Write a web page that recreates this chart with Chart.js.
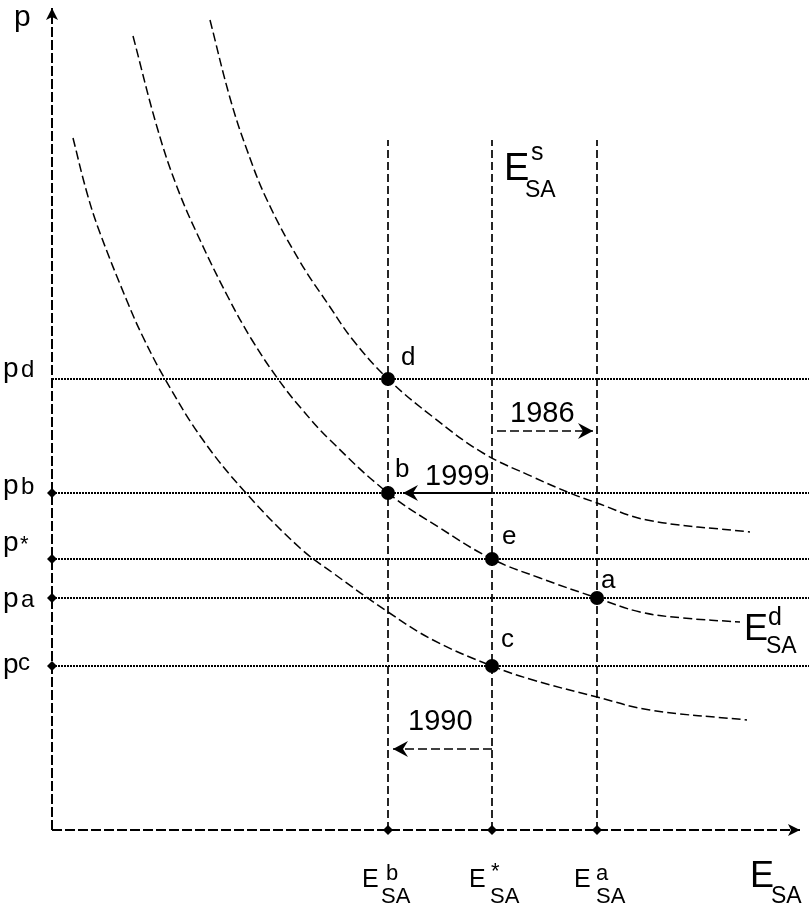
<!DOCTYPE html>
<html>
<head>
<meta charset="utf-8">
<script src="https://cdn.jsdelivr.net/npm/chart.js@4.4.1/dist/chart.umd.min.js"></script>
<style>
  html, body { margin: 0; padding: 0; background: #ffffff; }
  #wrap { position: relative; width: 809px; height: 908px; }
</style>
</head>
<body>
<div id="wrap"><canvas id="c"></canvas></div>
<script>
// ---- Quantities (E_SA) and prices (p), arbitrary units ----
const E_b = 3.36, E_star = 4.40, E_a = 5.45;
const p_d = 4.51, p_b = 3.37, p_star = 2.71, p_a = 2.32, p_c = 1.64;

const quantityLevels = [E_b, E_star, E_a];
const priceLevels = [p_d, p_b, p_star, p_a, p_c];
const priceTickLevels = [p_b, p_star, p_a, p_c];

// Upper demand curve (through d)
const curveTop_E = [1.58, 1.78, 1.95, 2.15, 2.47, 2.78, 3.01, 3.36, 3.81, 4.31, 4.81, 5.18, 5.45, 5.95, 6.98];
const curveTop_p = [8.10, 7.32, 6.80, 6.30, 5.70, 5.23, 4.90, 4.51, 4.13, 3.77, 3.53, 3.37, 3.27, 3.10, 2.98];
// Middle demand curve E^d_SA (through b, e, a)
const curveMid_E = [0.81, 1.05, 1.25, 1.48, 1.76, 2.00, 2.26, 2.48, 2.78, 3.36, 3.88, 4.40, 4.88, 5.45, 5.88, 6.31, 6.88];
const curveMid_p = [7.94, 7.03, 6.43, 5.90, 5.33, 4.90, 4.51, 4.23, 3.90, 3.37, 3.02, 2.71, 2.52, 2.32, 2.18, 2.12, 2.08];
// Lower demand curve (through c)
const curveLow_E = [0.21, 0.35, 0.48, 0.75, 0.91, 1.13, 1.51, 1.94, 2.48, 2.81, 3.36, 3.81, 4.40, 4.81, 5.45, 5.98, 6.95];
const curveLow_p = [6.92, 6.37, 5.97, 5.29, 4.93, 4.51, 3.90, 3.37, 2.82, 2.57, 2.18, 1.90, 1.64, 1.50, 1.33, 1.20, 1.10];

// Equilibrium points
const pointNames = ['d', 'b', 'e', 'a', 'c'];
const point_E = [E_b, E_b, E_star, E_a, E_star];
const point_p = [p_d, p_b, p_star, p_a, p_c];

// Shift arrows
const arrow1986_E = [4.45, 5.41]; const arrow1986_p = 3.99;
const arrow1999_E = [4.40, 3.51]; const arrow1999_p = p_b;
const arrow1990_E = [4.40, 3.41]; const arrow1990_p = 0.81;

// Axis extents
const axisTop_p = 8.22, axisRight_E = 7.48, vLineTop_p = 6.90;
const viewE = [-0.52, 7.57], viewP = [-0.78, 8.30];

// ---- helpers ----
const pts = (xs, ys) => xs.map((x, i) => ({ x, y: Array.isArray(ys) ? ys[i] : ys }));

function makeArrowHead(len, half, notch) {
  const s = Math.ceil(len * 2 + 4);
  const c = document.createElement('canvas');
  c.width = s; c.height = s;
  const g = c.getContext('2d');
  const cx = s / 2, cy = s / 2;
  g.fillStyle = '#000';
  g.beginPath();
  g.moveTo(cx, cy);
  g.lineTo(cx - len, cy - half);
  g.lineTo(cx - len + notch, cy);
  g.lineTo(cx - len, cy + half);
  g.closePath();
  g.fill();
  return c;
}
const axisHead = makeArrowHead(12, 6, 3);
const yearHead = makeArrowHead(15, 8, 5);

const base = { showLine: true, fill: false, borderColor: '#000', backgroundColor: '#000', pointRadius: 0, pointHoverRadius: 0 };

const datasets = [];
// Equilibrium dots
datasets.push({ ...base, showLine: false, order: 0, data: pts(point_E, point_p), pointRadius: 7, pointStyle: 'circle', borderWidth: 0 });
// Small diamonds on the axes
datasets.push({ ...base, showLine: false, order: 1, data: priceTickLevels.map(p => ({ x: 0, y: p })).concat(quantityLevels.map(e => ({ x: e, y: 0 }))), pointRadius: 5, pointStyle: 'rectRot', borderWidth: 0 });
// Arrows
function arrowSet(xs, y, dash, width) {
  return { ...base, order: 2, data: pts(xs, y), borderWidth: width, borderDash: dash,
    pointStyle: [false, yearHead], pointRadius: [0, 8], rotation: xs[1] > xs[0] ? 0 : 180 };
}
datasets.push(arrowSet(arrow1986_E, arrow1986_p, [9, 4], 1.7));
datasets.push(arrowSet(arrow1999_E, arrow1999_p, [], 2.2));
datasets.push(arrowSet(arrow1990_E, arrow1990_p, [9, 4], 1.7));
// Demand curves
[[curveTop_E, curveTop_p], [curveMid_E, curveMid_p], [curveLow_E, curveLow_p]].forEach(([xs, ys]) => {
  datasets.push({ ...base, order: 3, data: pts(xs, ys), borderWidth: 1.5, borderDash: [9, 4], tension: 0.4 });
});
// Vertical supply lines
quantityLevels.forEach(e => {
  datasets.push({ ...base, order: 4, data: [{ x: e, y: 0 }, { x: e, y: vLineTop_p }], borderWidth: 1.7, borderDash: [8, 4] });
});
// Horizontal price lines
priceLevels.forEach(p => {
  datasets.push({ ...base, order: 5, data: [{ x: 0, y: p }, { x: viewE[1], y: p }], borderWidth: 1.8, borderDash: [2, 1], borderColor: '#000' });
});
// Axes
datasets.push({ ...base, order: 6, data: [{ x: 0, y: 0 }, { x: 0, y: axisTop_p }], borderWidth: 2, borderDash: [10, 3],
  pointStyle: [false, axisHead], pointRadius: [0, 8], rotation: -90 });
datasets.push({ ...base, order: 6, data: [{ x: 0, y: 0 }, { x: axisRight_E, y: 0 }], borderWidth: 2, borderDash: [10, 3],
  pointStyle: [false, axisHead], pointRadius: [0, 8], rotation: 0 });

// ---- text labels (anchor = left / baseline in data units) ----
const FONT = '"Liberation Sans", Arial, Helvetica, sans-serif';
const labels = [
  { t: 'p', x: -0.38, y: 8.04, s: 30 },
  { t: 'p', x: -0.49, y: 4.53, s: 28 }, { t: 'd', x: -0.31, y: 4.53, s: 24 },
  { t: 'p', x: -0.49, y: 3.36, s: 28 }, { t: 'b', x: -0.31, y: 3.36, s: 24 },
  { t: 'p', x: -0.49, y: 2.79, s: 28 }, { t: '*', x: -0.32, y: 2.79, s: 22 },
  { t: 'p', x: -0.49, y: 2.23, s: 28 }, { t: 'a', x: -0.31, y: 2.23, s: 24 },
  { t: 'p', x: -0.49, y: 1.57, s: 28 }, { t: 'c', x: -0.34, y: 1.60, s: 24 },
  { t: 'd', x: 3.49, y: 4.65, s: 26 },
  { t: 'b', x: 3.43, y: 3.53, s: 26 },
  { t: 'e', x: 4.50, y: 2.86, s: 26 },
  { t: 'c', x: 4.49, y: 1.83, s: 26 },
  { t: 'a', x: 5.49, y: 2.42, s: 26 },
  { t: '1986', x: 4.58, y: 4.08, s: 29 },
  { t: '1999', x: 3.73, y: 3.45, s: 29 },
  { t: '1990', x: 3.56, y: 1.00, s: 29 },
  { t: 'E', x: 4.52, y: 6.50, s: 38 }, { t: 's', x: 4.79, y: 6.70, s: 25 }, { t: 'SA', x: 4.73, y: 6.33, s: 23 },
  { t: 'E', x: 6.92, y: 1.90, s: 36 }, { t: 'd', x: 7.16, y: 2.05, s: 25 }, { t: 'SA', x: 7.14, y: 1.77, s: 23 },
  { t: 'E', x: 3.10, y: -0.57, s: 25 }, { t: 'b', x: 3.34, y: -0.50, s: 22 }, { t: 'SA', x: 3.29, y: -0.73, s: 22 },
  { t: 'E', x: 4.17, y: -0.57, s: 25 }, { t: '*', x: 4.39, y: -0.48, s: 22 }, { t: 'SA', x: 4.38, y: -0.73, s: 22 },
  { t: 'E', x: 5.22, y: -0.57, s: 25 }, { t: 'a', x: 5.44, y: -0.50, s: 22 }, { t: 'SA', x: 5.44, y: -0.73, s: 22 },
  { t: 'E', x: 6.98, y: -0.57, s: 36 }, { t: 'SA', x: 7.19, y: -0.73, s: 23 }
];

const labelPlugin = {
  id: 'labels',
  afterDatasetsDraw(chart) {
    const { ctx, scales: { x, y } } = chart;
    ctx.save();
    ctx.fillStyle = '#000';
    ctx.textAlign = 'left';
    ctx.textBaseline = 'alphabetic';
    labels.forEach(l => {
      ctx.font = l.s + 'px ' + FONT;
      ctx.fillText(l.t, x.getPixelForValue(l.x), y.getPixelForValue(l.y));
    });
    ctx.restore();
  }
};

new Chart(document.getElementById('c'), {
  type: 'scatter',
  data: { datasets },
  options: {
    responsive: true,
    maintainAspectRatio: false,
    animation: false,
    events: [],
    layout: { padding: 0, autoPadding: false },
    scales: {
      x: { type: 'linear', display: false, min: viewE[0], max: viewE[1] },
      y: { type: 'linear', display: false, min: viewP[0], max: viewP[1] }
    },
    plugins: { legend: { display: false }, tooltip: { enabled: false } }
  },
  plugins: [labelPlugin]
});
</script>
</body>
</html>
